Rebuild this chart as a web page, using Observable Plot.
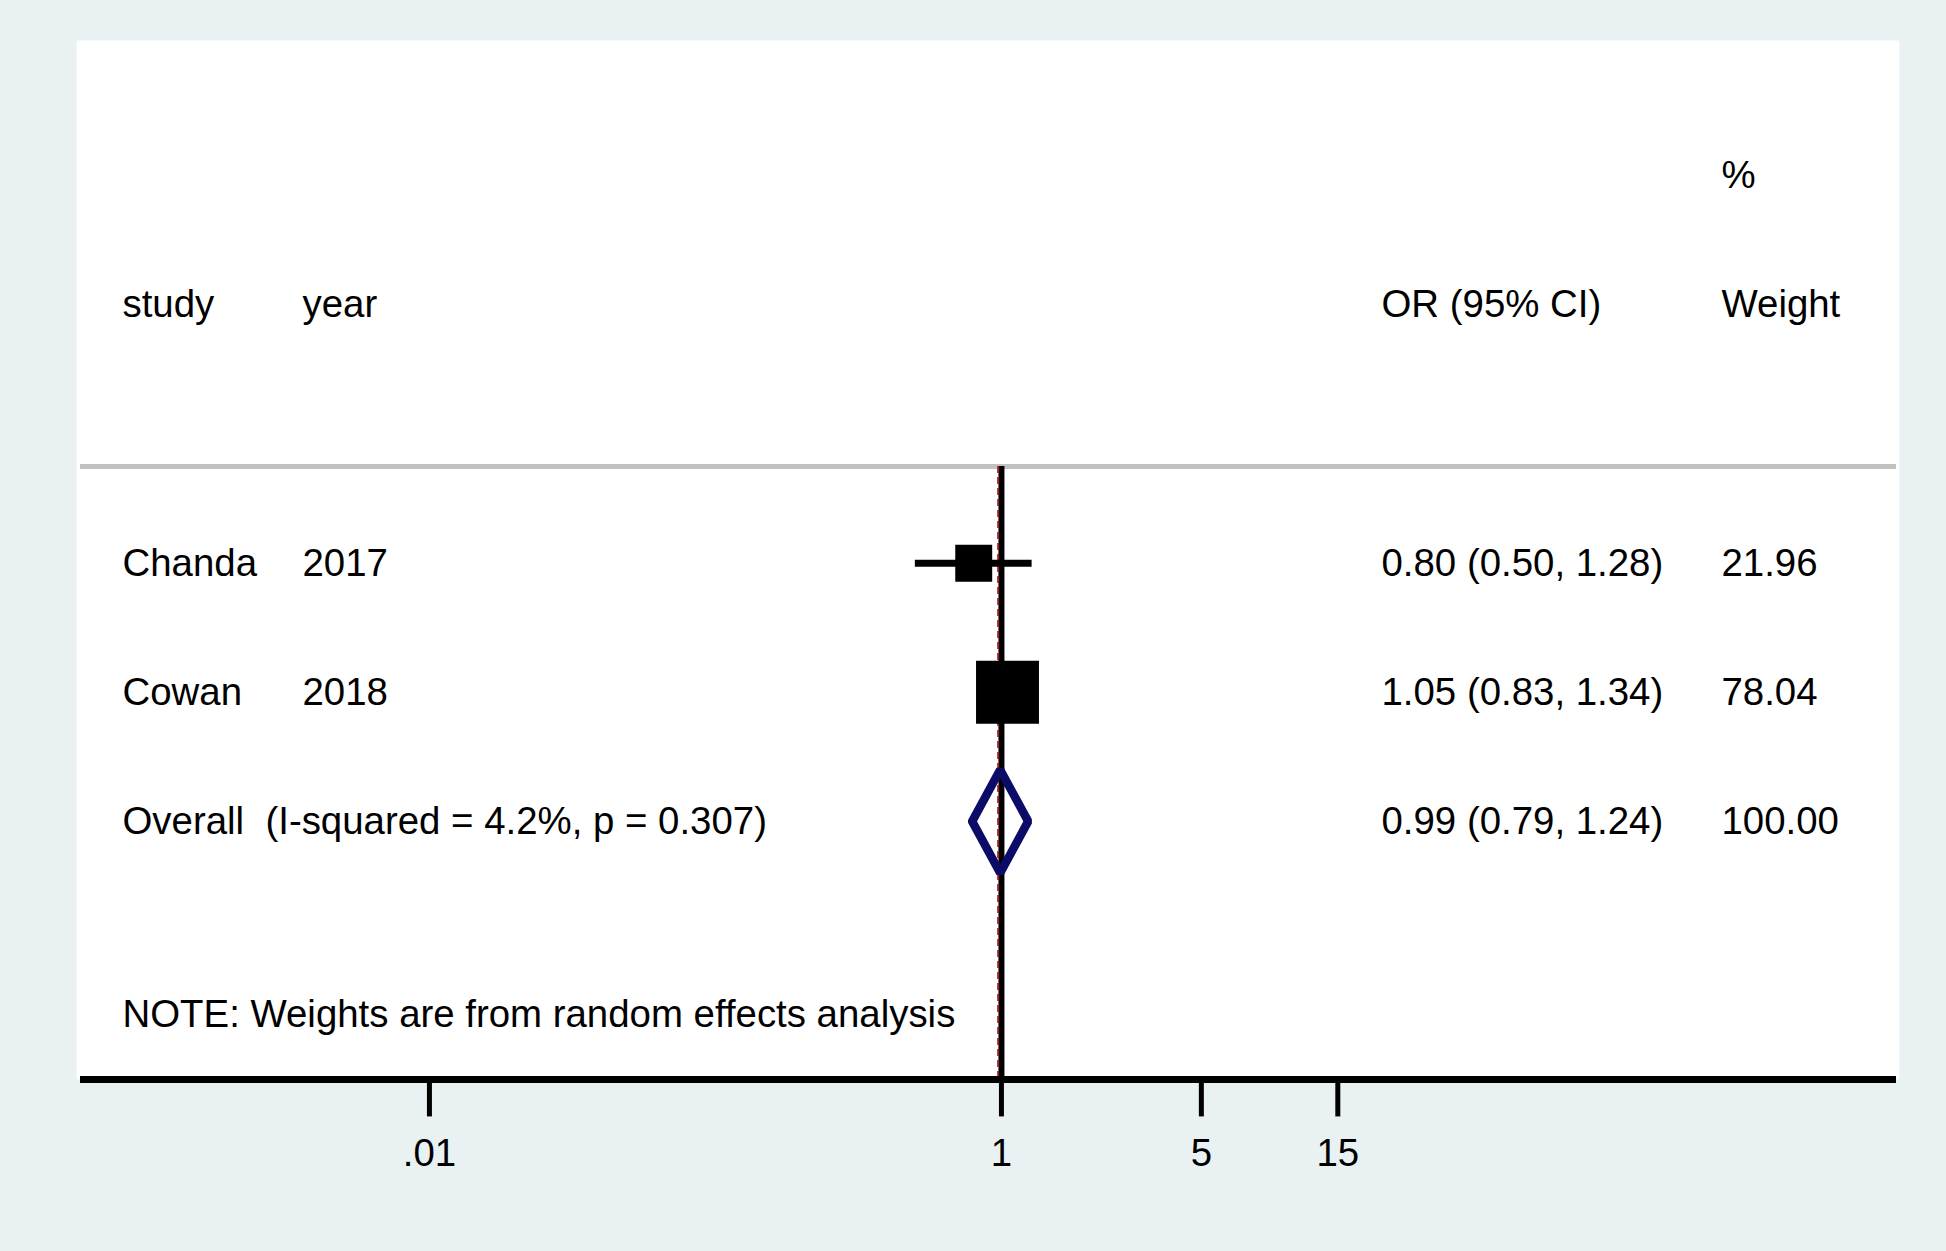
<!DOCTYPE html>
<html>
<head>
<meta charset="utf-8">
<script src="https://cdn.jsdelivr.net/npm/d3@7"></script>
<script src="https://cdn.jsdelivr.net/npm/@observablehq/plot@0.6"></script>
<style>
  html, body { margin: 0; padding: 0; background: #e9f1f2; }
  #chart svg { display: block; background: transparent; }
  #chart svg text { white-space: pre; }
</style>
</head>
<body>
<div id="chart"></div>
<script>
// ---- data ----
const studies = ["Chanda", "Cowan"];
const years = ["2017", "2018"];
const orEst = [0.80, 1.05];
const ciLow = [0.50, 0.83];
const ciHigh = [1.28, 1.34];
const weights = [21.96, 78.04];
const orLabels = ["0.80 (0.50, 1.28)", "1.05 (0.83, 1.34)"];
const weightLabels = ["21.96", "78.04"];

const overallLabel = "Overall  (I-squared = 4.2%, p = 0.307)";
const overallOR = 0.99;
const overallLow = 0.79;
const overallHigh = 1.24;
const overallORLabel = "0.99 (0.79, 1.24)";
const overallWeightLabel = "100.00";

const headerLabels = ["study", "year", "OR (95% CI)", "Weight"];
const headerTop = "%";
const noteText = "NOTE: Weights are from random effects analysis";

const tickValues = [0.01, 1, 5, 15];
const tickLabels = [".01", "1", "5", "15"];

// ---- layout rows (row index on the y scale) ----
const rowTop = -2, rowHeader = -1, rowOverall = 3, rowNote = 4.5;
const headerRuleRow = 0.25, axisRow = 5, tickEndRow = 5.29, tickLabelRow = 5.575;
const diamondHalf = 0.4;

const rows = studies.map((s, i) => ({
  study: s, year: years[i], or: orEst[i], lo: ciLow[i], hi: ciHigh[i],
  weight: weights[i], orLabel: orLabels[i], wLabel: weightLabels[i], row: i + 1
}));

const diamond = [
  {x: overallLow, y: rowOverall},
  {x: overallOR, y: rowOverall - diamondHalf},
  {x: overallHigh, y: rowOverall},
  {x: overallOR, y: rowOverall + diamondHalf},
  {x: overallLow, y: rowOverall}
];

const ticks = tickValues.map((v, i) => ({v, label: tickLabels[i]}));

const font = "'Liberation Sans', Arial, Helvetica, sans-serif";
const fs = 38.4;
const colStudy = 46, colYear = 226, colOR = 1305, colW = 1645;

const textRows = [
  ...rows.map(d => ({t: d.study, row: d.row, dx: colStudy})),
  ...rows.map(d => ({t: d.year, row: d.row, dx: colYear})),
  ...rows.map(d => ({t: d.orLabel, row: d.row, dx: colOR})),
  ...rows.map(d => ({t: d.wLabel, row: d.row, dx: colW})),
  {t: overallLabel, row: rowOverall, dx: colStudy},
  {t: overallORLabel, row: rowOverall, dx: colOR},
  {t: overallWeightLabel, row: rowOverall, dx: colW},
  {t: headerLabels[0], row: rowHeader, dx: colStudy},
  {t: headerLabels[1], row: rowHeader, dx: colYear},
  {t: headerLabels[2], row: rowHeader, dx: colOR},
  {t: headerLabels[3], row: rowHeader, dx: colW},
  {t: headerTop, row: rowTop, dx: colW},
  {t: noteText, row: rowNote, dx: colStudy}
];

const textMarks = textRows.map(d =>
  Plot.text([d], {y: "row", text: "t", frameAnchor: "left", dx: d.dx,
    textAnchor: "start", fontSize: fs, fill: "black"})
);

const chart = Plot.plot({
  width: 1946,
  height: 1251,
  marginLeft: 76,
  marginRight: 47,
  marginTop: 40,
  marginBottom: 172,
  style: {fontFamily: font, background: "transparent"},
  x: {type: "log", domain: [Math.pow(10, -3.234), Math.pow(10, 3.14)], axis: null},
  y: {domain: [axisRow, -3.05], axis: null},
  r: {type: "pow", exponent: 0.42, domain: [0, 100], range: [0, 39.4]},
  marks: [
    Plot.frame({fill: "white", stroke: "none"}),
    Plot.ruleY([headerRuleRow], {stroke: "#c2c2c2", strokeWidth: 5, insetLeft: 4, insetRight: 3}),
    Plot.ruleX([1], {y1: headerRuleRow, y2: axisRow, stroke: "black", strokeWidth: 6}),
    Plot.ruleX([overallOR], {y1: headerRuleRow, y2: axisRow, stroke: "#9b1c1c", strokeWidth: 2, strokeDasharray: "7,4", dx: -2}),
    Plot.ruleY(rows, {y: "row", x1: "lo", x2: "hi", stroke: "black", strokeWidth: 7}),
    Plot.dot(rows, {x: "or", y: "row", r: "weight", symbol: "square", fill: "black", stroke: "none"}),
    Plot.line(diamond, {x: "x", y: "y", stroke: "#0c0c68", strokeWidth: 8.5, strokeLinejoin: "miter", fill: "none"}),
    Plot.ruleY([axisRow], {stroke: "black", strokeWidth: 7, insetLeft: 4, insetRight: 3}),
    Plot.ruleX(ticks, {x: "v", y1: axisRow, y2: tickEndRow, stroke: "black", strokeWidth: 5}),
    Plot.text(ticks, {x: "v", y: tickLabelRow, text: "label", fontSize: fs, fill: "black"}),
    ...textMarks
  ]
});

document.getElementById("chart").appendChild(chart);
</script>
</body>
</html>
